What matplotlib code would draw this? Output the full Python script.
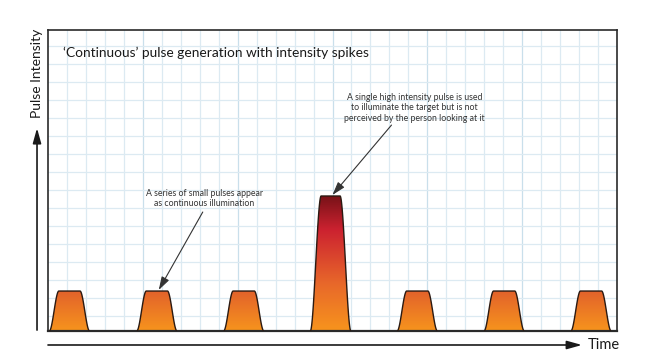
import numpy as np
import matplotlib
matplotlib.use("Agg")
import matplotlib.pyplot as plt
from matplotlib.colors import LinearSegmentedColormap
from matplotlib.patches import Polygon

plt.rcParams["font.family"] = ["Lato", "DejaVu Sans"]

# pulses: time position (grid units), height (grid units), half widths at base / at top
pulse_t = [1.13, 5.74, 10.32, 14.9, 19.47, 24.05, 28.63]
pulse_h = [2.22, 2.22, 2.22, 7.5, 2.22, 2.22, 2.22]
base_hw = [1.06, 1.06, 1.06, 1.07, 1.06, 1.06, 1.06]
top_hw = [0.56, 0.56, 0.56, 0.5, 0.56, 0.56, 0.56]

title = "\u2018Continuous\u2019 pulse generation with intensity spikes"
note_big = ("A single high intensity pulse is used\n"
            "to illuminate the target but is not\n"
            "perceived by the person looking at it")
note_small = "A series of small pulses appear\nas continuous illumination"

small_cmap = LinearSegmentedColormap.from_list("small", ["#f7941d", "#e2622b"])
big_cmap = LinearSegmentedColormap.from_list(
    "big", [(0.0, "#f7941d"), (0.35, "#e8682a"), (0.75, "#cc2230"), (1.0, "#781218")])


def outline(c, h, bw, tw, n=60):
    # rounded trapezoid: S-shaped flanks, flared foot, rounded shoulder
    t = np.linspace(0, 1, n)
    s = t * t * (3 - 2 * t)
    left_x = c - bw + (bw - tw) * t
    right_x = c + tw + (bw - tw) * t
    xs = np.concatenate([left_x, right_x])
    ys = np.concatenate([h * s, h * s[::-1]])
    return np.column_stack([xs, ys])


fig = plt.figure(figsize=(6.5, 3.58), dpi=100)
ax = fig.add_axes([48 / 650, 27 / 358, 569 / 650, 301 / 358])
ax.set_xlim(0, 30)
ax.set_ylim(0, 301 / 18)

# graph paper
for x in np.arange(1, 30):
    major = x % 5 == 0
    ax.axvline(x, color="#c9dfeb" if major else "#dceaf2", lw=0.9, zorder=0)
for y in np.arange(0.82, 16.7, 1):
    ax.axhline(y, color="#dceaf2", lw=0.9, zorder=0)

grad = np.linspace(0, 1, 256).reshape(-1, 1)
for c, h, bw, tw in zip(pulse_t, pulse_h, base_hw, top_hw):
    pts = outline(c, h, bw, tw)
    cmap = big_cmap if h > 5 else small_cmap
    im = ax.imshow(grad, origin="lower", cmap=cmap, aspect="auto",
                   extent=(c - bw, c + bw, 0, h), zorder=2)
    poly = Polygon(pts, closed=False, fc="none", ec="#2b1a12", lw=1.0, zorder=3)
    ax.add_patch(poly)
    im.set_clip_path(Polygon(pts, closed=True, transform=ax.transData))

for s in ax.spines.values():
    s.set_color("#2a2a2a")
    s.set_linewidth(1.2)
ax.spines["bottom"].set_linewidth(1.6)
ax.set_xticks([])
ax.set_yticks([])

ax.text(0.79, 15.44, title, fontsize=9.9, color="#1a1a1a", va="center", ha="left")

ax.text(19.32, 12.39, note_big, fontsize=6.3, color="#333333", ha="center",
        va="center", linespacing=1.25)
ax.text(8.24, 7.36, note_small, fontsize=6.3, color="#333333", ha="center",
        va="center", linespacing=1.25)

arrow_kw = dict(arrowstyle="-|>,head_length=0.8,head_width=0.25", color="#333333",
                lw=0.8, shrinkA=0, shrinkB=0)
ax.annotate("", xy=(15.0, 7.56), xytext=(18.11, 11.44), arrowprops=arrow_kw, zorder=4)
ax.annotate("", xy=(5.84, 2.28), xytext=(8.16, 6.61), arrowprops=arrow_kw, zorder=4)

# axis arrows outside the frame
axis_kw = dict(arrowstyle="-|>,head_length=0.9,head_width=0.25", color="#1a1a1a",
               lw=1.2, shrinkA=0, shrinkB=0)
ax.annotate("", xy=(-0.0193, 0.674), xytext=(-0.0193, 0.003), xycoords="axes fraction",
            textcoords="axes fraction", arrowprops=axis_kw, annotation_clip=False)
ax.annotate("", xy=(0.9385, -0.0465), xytext=(0.0, -0.0465), xycoords="axes fraction",
            textcoords="axes fraction", arrowprops=axis_kw, annotation_clip=False)
ax.text(-0.0193, 0.855, "Pulse Intensity", transform=ax.transAxes, rotation=90,
        fontsize=10, color="#1a1a1a", ha="center", va="center")
ax.text(0.949, -0.0465, "Time", transform=ax.transAxes, fontsize=10.5,
        color="#1a1a1a", ha="left", va="center")

fig.savefig("out.png", dpi=100, facecolor="white")
